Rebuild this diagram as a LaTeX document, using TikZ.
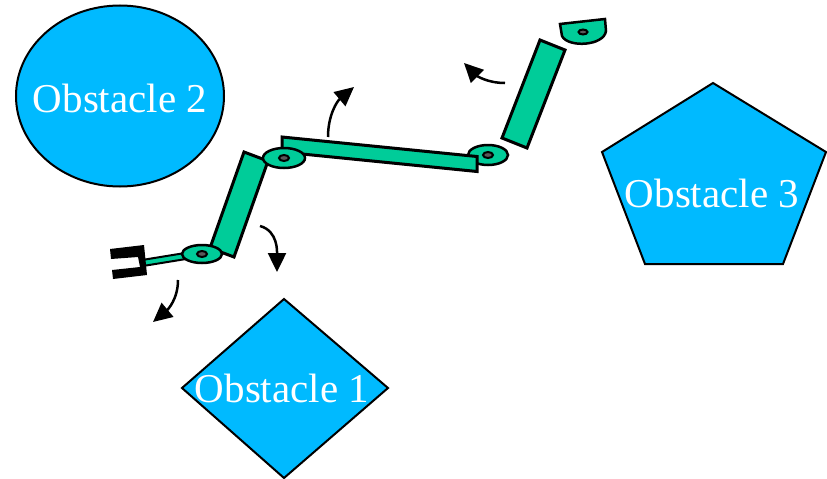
\documentclass[tikz,border=0pt]{standalone}
\usepackage{fontspec}
\setmainfont{Liberation Serif}
\usetikzlibrary{arrows.meta}

\definecolor{obstblue}{RGB}{0,186,255}
\definecolor{armgreen}{RGB}{0,204,153}

\tikzset{
  obstacle/.style={draw=black, line width=2pt, fill=obstblue},
  obstlabel/.style={text=white, font=\fontsize{41}{41}\selectfont, inner sep=0pt, anchor=base},
  link/.style={draw=black, line width=3pt, fill=armgreen},
  joint/.style={draw=black, line width=2.5pt, fill=armgreen},
  jointpin/.style={draw=black, line width=2pt, fill=gray!70!black},
  moveArrow/.style={line width=2.5pt, -{Triangle[length=19pt, width=18pt]}},
}

\begin{document}
\begin{tikzpicture}[x=1pt, y=-1pt]
    \useasboundingbox (0,0) rectangle (827,479);

    \draw[obstacle] (120,96) ellipse (104 and 90.5);
    \draw[obstacle] (713,83) -- (826,152) -- (783,264) -- (645,264) -- (602,152) -- cycle;
    \draw[obstacle] (284,299) -- (388,388) -- (284,478) -- (182,388) -- cycle;
    \node[obstlabel] (obst2) at (120,112) {Obstacle 2};
    \node[obstlabel] (obst3) at (712,207) {Obstacle 3};
    \node[obstlabel] (obst1) at (282,402) {Obstacle 1};

    \coordinate (j1) at (202,254);
    \coordinate (j2) at (284,158);
    \coordinate (j3) at (488,155);
    \coordinate (base) at (583,32);

    \draw[link] (244,152) -- (268,161) -- (234,257) -- (210,248) -- cycle;
    \draw[link] (540,40) -- (565,50) -- (527,148) -- (502,138) -- cycle;
    \draw[link, line width=2pt] (142,260) -- (185,253) -- (186,259) -- (143,266) -- cycle;
    \fill[black] (110,249) -- (144,245) -- (147,275) -- (113,279) -- (112,270)
                 -- (140,267) -- (138,257) -- (111,259) -- cycle;
    \draw[joint] (j3) ellipse (20 and 10);
    \draw[jointpin] (j3) ellipse (5 and 3);
    \draw[link] (282,137) -- (477,156.5) -- (477,171.5) -- (282,152) -- cycle;
    \draw[joint] (j1) ellipse (20 and 9);
    \draw[jointpin] (j1) ellipse (5 and 3);
    \draw[joint] (j2) ellipse (21 and 10);
    \draw[jointpin] (j2) ellipse (5 and 3);
    \draw[joint] (560,24) -- (605,19) -- (606,31)
                 .. controls (604,46) and (568,48) .. (562,36) -- cycle;
    \draw[jointpin] (base) ellipse (4.5 and 2.5);

    \draw[moveArrow] (260,226) to[out=-15, in=90] (277,272);
    \draw[moveArrow] (178,280) to[out=-90, in=40] (153,322);
    \draw[moveArrow] (328,137) to[out=90, in=-140] (354,87);
    \draw[moveArrow] (505,83) to[out=180, in=-45] (464,63);
\end{tikzpicture}
\end{document}
